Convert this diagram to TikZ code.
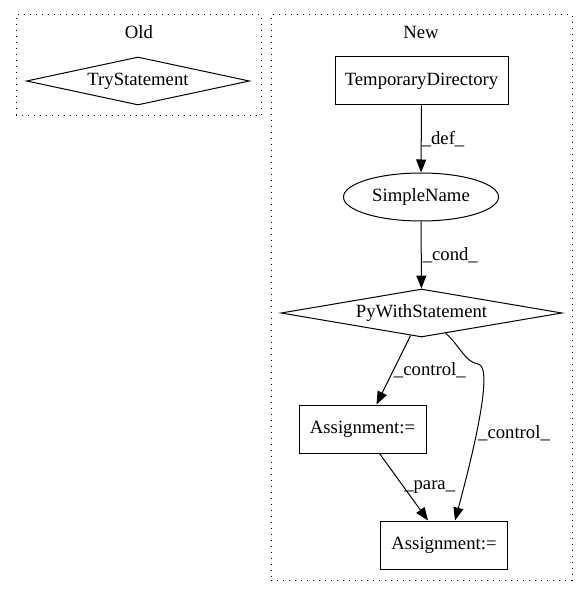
\documentclass[tikz,border=0pt]{standalone}
\usepackage{fontspec}
\setmainfont{Liberation Serif}
\usepackage{tikz}
\usetikzlibrary{calc}
\usetikzlibrary{shapes.geometric, arrows.meta}
\tikzstyle{cluster} = [rectangle,
draw=black,
dash pattern=on 1.4pt off 4.6pt,
line width=1pt,
inner sep=0pt]
\tikzstyle{boxnode} = [rectangle,
minimum width=127pt,
minimum height=48pt,
draw=black,
line width=1pt]
\tikzstyle{diamondnode} = [diamond,
aspect=4.7,
inner sep=0pt,
draw=black,
line width=1pt]
\tikzstyle{ellnode} = [ellipse,
minimum width=155pt,
minimum height=48pt,
draw=black,
line width=1pt]
\tikzstyle{lbl} = [inner sep=2pt]
\tikzstyle{arrow} = [line width=1pt,-{Triangle[length=13pt,width=10pt]}]

\begin{document}
\begin{tikzpicture}[x=1pt, y=-1pt, font=\fontsize{18.7}{22}\selectfont]
    \useasboundingbox (0,0) rectangle (587,596);

    % clusters
    \node (old) [cluster, minimum width=245pt, minimum height=101pt] at (138.5,65.5) {};
    \node (oldtitle) at (139,32) {Old};
    \node (new) [cluster, minimum width=301pt, minimum height=565pt] at (421.5,297.5) {};
    \node (newtitle) at (421,32) {New};

    % old
    \node (try) [diamondnode, minimum width=223pt, minimum height=48pt] at (138,81) {\makebox[0pt]{TryStatement}};

    % new
    \node (tmpdir) [boxnode, minimum width=173pt] at (421.5,81) {TemporaryDirectory};
    \node (simple) [ellnode] at (421,197) {SimpleName};
    \node (pywith) [diamondnode, minimum width=281pt, minimum height=48pt] at (421.5,313) {\makebox[0pt]{PyWithStatement}};
    \node (assign1) [boxnode] at (362.5,429) {Assignment:=};
    \node (assign2) [boxnode] at (444,545) {Assignment:=};

    % edges
    \draw [arrow] (tmpdir) -- node (ldef) [lbl, right, inner sep=0pt] {\_def\_} (simple);
    \draw [arrow] (simple) -- node (lcond) [lbl, right, inner sep=1pt] {\_cond\_} (pywith);
    \draw [arrow] (pywith.-116) -- node (lctrl1) [lbl, right, inner sep=0pt] {\_control\_} ($(assign1.north)+(14,0)$);
    \draw [arrow] ($(assign1.south)+(17,0)$) -- node (lpara) [lbl, right, inner sep=0pt] {\_para\_} ($(assign2.north)+(-16,0)$);
    \draw [arrow] (pywith.-40) .. controls (460,346) and (465,362) .. (478,364)
        .. controls (494,366) and (474,450) .. ($(assign2.north)+(11,0)$);
    \node (lctrl2) at (514,433) {\_control\_};
\end{tikzpicture}
\end{document}
